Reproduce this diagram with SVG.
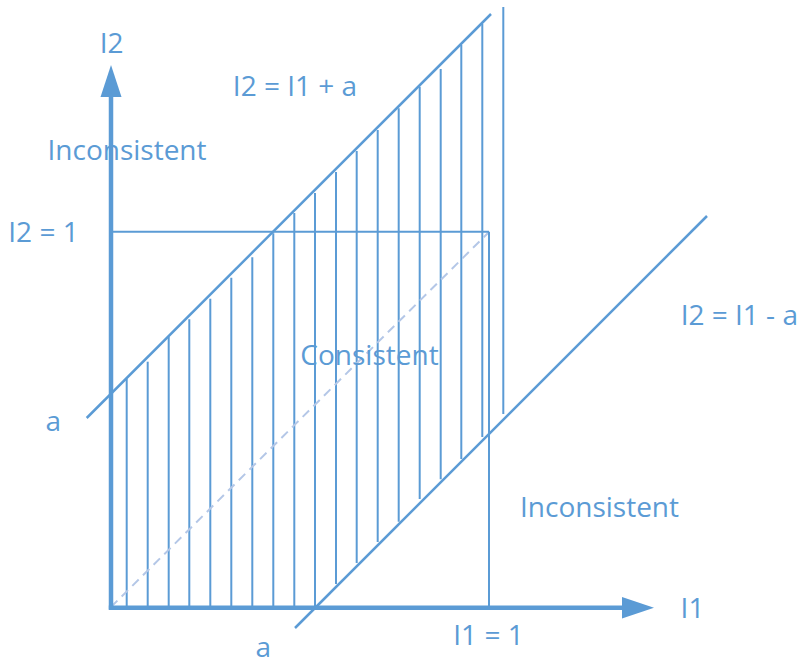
<svg xmlns="http://www.w3.org/2000/svg" width="802" height="664" viewBox="0 0 802 664">
<style>
.t{font-family:"Open Sans","Liberation Sans",sans-serif;font-size:28px;fill:#5b9bd5;text-anchor:middle}
.ln{stroke:#5b9bd5;fill:none}
.h{stroke:#5b9bd5;stroke-width:2}
</style>
<rect width="802" height="664" fill="#ffffff"/>
<g id="hatching" class="h">
<line x1="126.7" y1="378.7" x2="126.7" y2="607"/>
<line x1="147.7" y1="361.7" x2="147.7" y2="607"/>
<line x1="168.7" y1="336.7" x2="168.7" y2="607"/>
<line x1="189.3" y1="319.3" x2="189.3" y2="607"/>
<line x1="210.3" y1="298.7" x2="210.3" y2="607"/>
<line x1="231.3" y1="277.7" x2="231.3" y2="607"/>
<line x1="252.3" y1="257.3" x2="252.3" y2="607"/>
<line x1="273.3" y1="233.3" x2="273.3" y2="607"/>
<line x1="294.3" y1="213" x2="294.3" y2="607"/>
<line x1="315" y1="193" x2="315" y2="607"/>
<line x1="336" y1="172" x2="336" y2="584"/>
<line x1="356.7" y1="151" x2="356.7" y2="563"/>
<line x1="377.7" y1="130" x2="377.7" y2="542"/>
<line x1="398.7" y1="108.3" x2="398.7" y2="521.7"/>
<line x1="419.7" y1="86.7" x2="419.7" y2="499"/>
<line x1="440.7" y1="69" x2="440.7" y2="479.3"/>
<line x1="461.3" y1="45" x2="461.3" y2="459"/>
<line x1="482.3" y1="24" x2="482.3" y2="437"/>
</g>
<g id="connectors">
<line x1="111" y1="607" x2="489" y2="232" stroke="#b4c7e7" stroke-width="2" stroke-dasharray="9 6"/>
<line class="ln" x1="111" y1="231.7" x2="489" y2="231.7" stroke-width="2"/>
<line class="ln" x1="489" y1="231.7" x2="489" y2="607" stroke-width="2"/>
<line class="ln" x1="503.3" y1="7" x2="503.3" y2="414" stroke-width="2"/>
<line id="line-plus" class="ln" x1="86.7" y1="418" x2="491" y2="14" stroke-width="2.5"/>
<line id="line-minus" class="ln" x1="295" y1="628" x2="707" y2="216" stroke-width="2.5"/>
</g>
<g id="axes">
<line class="ln" x1="111" y1="609.5" x2="111" y2="95" stroke-width="4.5"/>
<polygon points="111,65 100.5,97 121.5,97" fill="#5b9bd5"/>
<line class="ln" x1="108.8" y1="607.7" x2="624" y2="607.7" stroke-width="4.5"/>
<polygon points="654,607.7 622,597 622,618.4" fill="#5b9bd5"/>
</g>
<g id="labels">
<text class="t" x="111.7" y="53.3">I2</text>
<text class="t" x="295" y="95.7">I2 = I1 + a</text>
<text class="t" x="127" y="160">Inconsistent</text>
<text class="t" x="43.5" y="241.7">I2 = 1</text>
<text class="t" x="53.3" y="431">a</text>
<text class="t" x="369.5" y="365">Consistent</text>
<text class="t" x="739.3" y="325">I2 = I1 - a</text>
<text class="t" x="599.5" y="516.7">Inconsistent</text>
<text class="t" x="692.5" y="618.3">I1</text>
<text class="t" x="488.5" y="645">I1 = 1</text>
<text class="t" x="263.3" y="657">a</text>
</g>
</svg>
